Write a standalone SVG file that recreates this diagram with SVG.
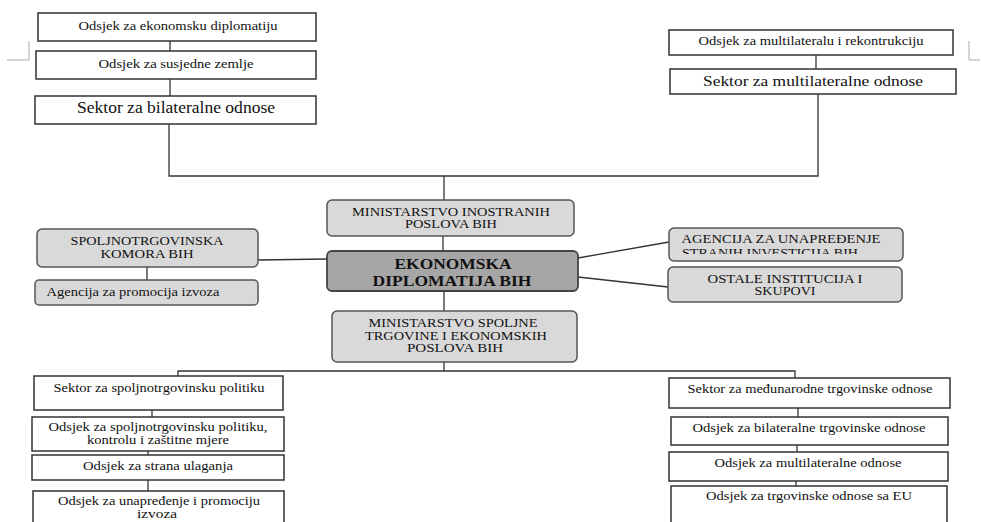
<svg xmlns="http://www.w3.org/2000/svg" width="981" height="522" viewBox="0 0 981 522">
<style>
text{font-family:"Liberation Serif","Times New Roman",Tinos,"DejaVu Serif",serif;fill:#111;text-anchor:middle}
.sq{fill:#fff;stroke:#333;stroke-width:1.5}
.rd{fill:#d9d9d9;stroke:#555;stroke-width:1.5}
.main{fill:#a6a6a6;stroke:#444;stroke-width:1.8}
.c{stroke:#333;stroke-width:1.3;fill:none}
.mark{stroke:#aaa;stroke-width:1;fill:none}
.s12{font-size:12.5px}
.s14{font-size:14px}
.s16{font-size:16px}
.cap{font-size:11.5px}
</style>
<defs>
<clipPath id="clipAg"><rect x="669" y="228" width="234" height="26"/></clipPath>
</defs>
<g id="page-marks">
<path class="mark" d="M29 41 V60 H7"/>
<path class="mark" d="M969 41 V60 H980"/>
</g>
<g id="connectors">
<path class="c" d="M170 41 V51"/>
<path class="c" d="M170 79 V96"/>
<path class="c" d="M169 124 V176 H818 V94"/>
<path class="c" d="M816 55 V69"/>
<path class="c" d="M444 176 V200"/>
<path class="c" d="M443 236 V251"/>
<path class="c" d="M444 291 V311"/>
<path class="c" d="M258 260 L327 259"/>
<path class="c" d="M147 267 V280"/>
<path class="c" d="M578 258 L669 242"/>
<path class="c" d="M578 277 L668 287"/>
<path class="c" d="M444 362 V371"/>
<path class="c" d="M178 376 V371 H795 V378"/>
<path class="c" d="M152 410 V417"/>
<path class="c" d="M148 451 V455"/>
<path class="c" d="M148 480 V491"/>
<path class="c" d="M798 408 V417"/>
<path class="c" d="M797 445 V452"/>
<path class="c" d="M796 481 V486"/>
</g>
<g id="n-ekonomsku-diplomatiju">
<rect class="sq" x="38" y="13" width="278" height="28"/>
<text class="s12" x="178" y="30" textLength="199" lengthAdjust="spacingAndGlyphs">Odsjek za ekonomsku diplomatiju</text>
</g>
<g id="n-susjedne-zemlje">
<rect class="sq" x="36" y="51" width="280" height="28"/>
<text class="s12" x="176" y="68" textLength="155" lengthAdjust="spacingAndGlyphs">Odsjek za susjedne zemlje</text>
</g>
<g id="n-bilateralne">
<rect class="sq" x="35" y="96" width="281" height="28"/>
<text class="s16" x="176" y="113" textLength="198" lengthAdjust="spacingAndGlyphs">Sektor za bilateralne odnose</text>
</g>
<g id="n-multilateralu">
<rect class="sq" x="669" y="30" width="284" height="25"/>
<text class="s12" x="811" y="45" textLength="225" lengthAdjust="spacingAndGlyphs">Odsjek za multilateralu i rekontrukciju</text>
</g>
<g id="n-multilateralne">
<rect class="sq" x="670" y="69" width="286" height="25"/>
<text class="s14" x="813" y="86" textLength="220" lengthAdjust="spacingAndGlyphs">Sektor za multilateralne odnose</text>
</g>
<g id="n-mip">
<rect class="rd" x="327" y="200" width="247" height="36" rx="5"/>
<text class="cap" x="451" y="216" textLength="198" lengthAdjust="spacingAndGlyphs">MINISTARSTVO INOSTRANIH</text>
<text class="cap" x="451" y="228" textLength="92" lengthAdjust="spacingAndGlyphs">POSLOVA BIH</text>
</g>
<g id="n-ekonomska">
<rect class="main" x="327" y="251" width="251" height="40" rx="5"/>
<text x="453" y="269" font-size="14" font-weight="bold" textLength="117" lengthAdjust="spacingAndGlyphs">EKONOMSKA</text>
<text x="452" y="286" font-size="14" font-weight="bold" textLength="159" lengthAdjust="spacingAndGlyphs">DIPLOMATIJA BIH</text>
</g>
<g id="n-mvteo">
<rect class="rd" x="332" y="311" width="245" height="51" rx="5"/>
<text class="cap" x="453" y="327" textLength="169" lengthAdjust="spacingAndGlyphs">MINISTARSTVO SPOLJNE</text>
<text class="cap" x="456" y="340" textLength="182" lengthAdjust="spacingAndGlyphs">TRGOVINE I EKONOMSKIH</text>
<text class="cap" x="455" y="352" textLength="96" lengthAdjust="spacingAndGlyphs">POSLOVA BIH</text>
</g>
<g id="n-komora">
<rect class="rd" x="37" y="229" width="221" height="38" rx="5"/>
<text class="cap" x="147" y="245" textLength="153" lengthAdjust="spacingAndGlyphs">SPOLJNOTRGOVINSKA</text>
<text class="cap" x="147" y="258" textLength="93" lengthAdjust="spacingAndGlyphs">KOMORA BIH</text>
</g>
<g id="n-agencija-izvoz">
<rect class="rd" x="35" y="280" width="223" height="25" rx="4"/>
<text class="s12" x="133" y="296" textLength="173" lengthAdjust="spacingAndGlyphs">Agencija za promocija izvoza</text>
</g>
<g id="n-agencija-invest">
<rect class="rd" x="669" y="228" width="234" height="33" rx="5"/>
<g clip-path="url(#clipAg)">
<text class="cap" x="781" y="243" textLength="199" lengthAdjust="spacingAndGlyphs">AGENCIJA ZA UNAPREĐENJE</text>
<text class="cap" x="770" y="257" textLength="176" lengthAdjust="spacingAndGlyphs">STRANIH INVESTICIJA BIH</text>
</g>
</g>
<g id="n-ostale">
<rect class="rd" x="668" y="267" width="234" height="35" rx="5"/>
<text class="cap" x="785" y="283" textLength="155" lengthAdjust="spacingAndGlyphs">OSTALE INSTITUCIJA I</text>
<text class="cap" x="785" y="295" textLength="61" lengthAdjust="spacingAndGlyphs">SKUPOVI</text>
</g>
<g id="n-sektor-spoljno">
<rect class="sq" x="34" y="376" width="249" height="34"/>
<text class="s12" x="159" y="392" textLength="211" lengthAdjust="spacingAndGlyphs">Sektor za spoljnotrgovinsku politiku</text>
</g>
<g id="n-odsjek-spoljno">
<rect class="sq" x="32" y="417" width="252" height="34"/>
<text class="s12" x="158" y="431" textLength="219" lengthAdjust="spacingAndGlyphs">Odsjek za spoljnotrgovinsku politiku,</text>
<text class="s12" x="158" y="444" textLength="142" lengthAdjust="spacingAndGlyphs">kontrolu i zaštitne mjere</text>
</g>
<g id="n-strana-ulaganja">
<rect class="sq" x="32" y="455" width="252" height="25"/>
<text class="s12" x="158" y="470" textLength="150" lengthAdjust="spacingAndGlyphs">Odsjek za strana ulaganja</text>
</g>
<g id="n-promociju">
<rect class="sq" x="33" y="491" width="251" height="40"/>
<text class="s12" x="159" y="505" textLength="202" lengthAdjust="spacingAndGlyphs">Odsjek za unapređenje i promociju</text>
<text class="s12" x="157" y="518" textLength="40" lengthAdjust="spacingAndGlyphs">izvoza</text>
</g>
<g id="n-medjunarodne">
<rect class="sq" x="669" y="378" width="281" height="30"/>
<text class="s12" x="810" y="393" textLength="245" lengthAdjust="spacingAndGlyphs">Sektor za međunarodne trgovinske odnose</text>
</g>
<g id="n-bilateralne-trg">
<rect class="sq" x="671" y="417" width="277" height="28"/>
<text class="s12" x="809" y="432" textLength="233" lengthAdjust="spacingAndGlyphs">Odsjek za bilateralne trgovinske odnose</text>
</g>
<g id="n-multilateralne-odsjek">
<rect class="sq" x="669" y="452" width="279" height="29"/>
<text class="s12" x="808" y="467" textLength="187" lengthAdjust="spacingAndGlyphs">Odsjek za multilateralne odnose</text>
</g>
<g id="n-eu">
<rect class="sq" x="671" y="486" width="276" height="45"/>
<text class="s12" x="809" y="500" textLength="206" lengthAdjust="spacingAndGlyphs">Odsjek za trgovinske odnose sa EU</text>
</g>
</svg>
